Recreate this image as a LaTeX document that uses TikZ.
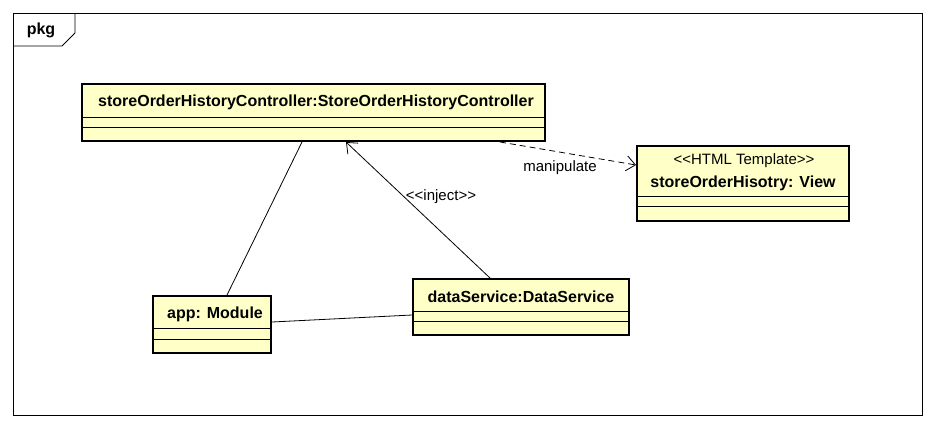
\documentclass[tikz,border=0pt]{standalone}
\usepackage{fontspec}
\setmainfont{Liberation Sans}[Ligatures=TeXOff]
\usetikzlibrary{arrows.meta}
\definecolor{boxfill}{HTML}{FFFFC8}
\tikzset{
  umlbox/.style={draw=black, line width=2.6pt, fill=boxfill},
  sep/.style={draw=black, line width=0.8pt},
  assoc/.style={draw=black, line width=0.8pt},
  openarrow/.style={-{Straight Barb[length=9pt,width=15pt,line width=0.8pt]}},
  lbl/.style={font=\fontsize{15}{17}\selectfont, inner sep=0pt},
  nm/.style={font=\fontsize{16}{18}\selectfont\bfseries, inner sep=0pt}
}
\begin{document}
\begin{tikzpicture}[x=1pt,y=-1pt]
\useasboundingbox (0,0) rectangle (936,429);
\fill[white] (0,0) rectangle (936,429);
% frame
\draw[line width=0.8pt] (13,13) rectangle (922,415);
\draw[line width=0.8pt] (13,46) -- (62,46) -- (75,33) -- (75,13);
\node[nm] (pkg) at (41,30) {pkg};

% controller
\draw[umlbox] (82,84) rectangle (545,141);
\draw[sep] (82,117) -- (545,117);
\draw[sep] (82,127) -- (545,127);
\node[nm] (ctrl) at (316,102) {storeOrderHistoryController:StoreOrderHistoryController};

% view
\draw[umlbox] (637,146) rectangle (849,221);
\draw[sep] (637,196) -- (849,196);
\draw[sep] (637,206) -- (849,206);
\node[lbl] (viewst) at (744,161) {<<HTML Template>>};
\node[nm] (view) at (743,183) {storeOrderHisotry: View};

% app
\draw[umlbox] (153,296) rectangle (271,353);
\draw[sep] (153,328) -- (271,328);
\draw[sep] (153,339) -- (271,339);
\node[nm] (app) at (215,314) {app: Module};

% dataService
\draw[umlbox] (413,279) rectangle (629,335);
\draw[sep] (413,311) -- (629,311);
\draw[sep] (413,321) -- (629,321);
\node[nm] (ds) at (521,297) {dataService:DataService};

% connectors
\coordinate (ctrlA) at (302,142);
\coordinate (appT) at (227,295);
\coordinate (ctrlI) at (346,142);
\coordinate (dsT) at (490,278);
\coordinate (ctrlM) at (500,142);
\coordinate (viewL) at (636,165);
\coordinate (appR) at (272,322);
\coordinate (dsL) at (412,315);
\draw[assoc] (ctrlA) -- (appT);
\draw[assoc, openarrow] (dsT) -- (ctrlI);
\draw[assoc, dash pattern=on 6pt off 4pt, openarrow] (ctrlM) -- (viewL);
\draw[assoc] (appR) -- (dsL);
\node[lbl] (inj) at (441,197) {<<inject>>};
\node[lbl] (man) at (560,168) {manipulate};
\end{tikzpicture}
\end{document}
